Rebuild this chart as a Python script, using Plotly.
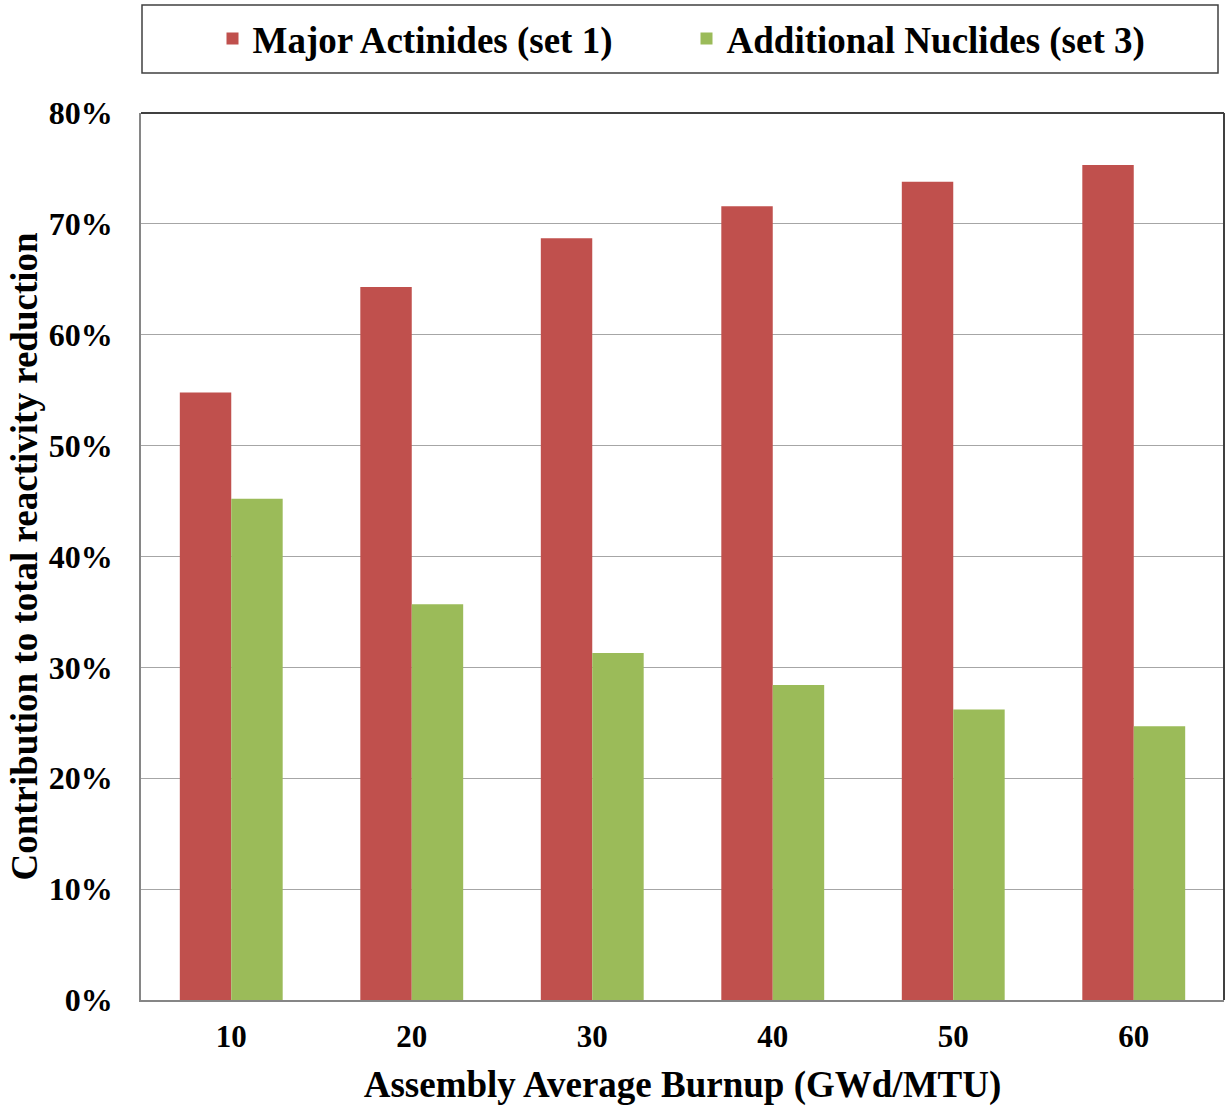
import plotly.graph_objects as go

# Burnup steps and contribution shares
burnup = ["10", "20", "30", "40", "50", "60"]
major_actinides = [54.8, 64.3, 68.7, 71.6, 73.8, 75.3]
additional_nuclides = [45.2, 35.7, 31.3, 28.4, 26.2, 24.7]
y_ticks = [0, 10, 20, 30, 40, 50, 60, 70, 80]

FONT = "Liberation Serif, Times New Roman, serif"
RED = "#C0504D"
GREEN = "#9BBB59"

W, H = 1225, 1109
L, R, T, B = 141, 1, 113, 109
PW, PH = W - L - R, H - T - B

fig = go.Figure()
fig.add_trace(go.Bar(
    x=burnup, y=major_actinides, name="<b>Major Actinides (set 1)</b>",
    marker=dict(color=RED, line=dict(width=0)),
))
fig.add_trace(go.Bar(
    x=burnup, y=additional_nuclides, name="<b>Additional Nuclides (set 3)</b>",
    marker=dict(color=GREEN, line=dict(width=0)),
))

fig.update_layout(
    width=W, height=H,
    margin=dict(l=L, r=R, t=T, b=B, autoexpand=False),
    paper_bgcolor="white", plot_bgcolor="white",
    font=dict(family=FONT, color="black"),
    barmode="group", bargap=0.43, bargroupgap=0,
    legend=dict(
        orientation="h", x=0.5 + 4 / PW, xanchor="center",
        y=1 + (T - 39) / PH, yanchor="middle",
        font=dict(size=37, family=FONT), bgcolor="rgba(0,0,0,0)",
        entrywidth=429, tracegroupgap=0,
    ),
    xaxis=dict(
        automargin=False,
        showgrid=False, showline=True, linecolor="#868686", linewidth=1.5,
        ticks="", tickfont=dict(size=31), ticklabelstandoff=8,
        title=dict(text="<b>Assembly Average Burnup (GWd/MTU)</b>",
                   font=dict(size=37), standoff=18),
    ),
    yaxis=dict(
        automargin=False,
        range=[0, 80], tickvals=y_ticks, ticktext=[f"<b>{v}%</b>" for v in y_ticks],
        showgrid=True, gridcolor="#A6A6A6", gridwidth=1.2,
        showline=True, linecolor="#868686", linewidth=1.5,
        ticks="", tickfont=dict(size=32), ticklabelstandoff=20,
        title=dict(text="<b>Contribution to total reactivity reduction</b>",
                   font=dict(size=37), standoff=0),
        zeroline=False,
    ),
)
fig.update_xaxes(tickvals=burnup, ticktext=[f"<b>{b}</b>" for b in burnup])

# top/right frame of plot area
fig.add_shape(type="line", xref="paper", yref="paper", x0=0, x1=1, y0=1, y1=1,
              line=dict(color="#404040", width=2))
fig.add_shape(type="line", xref="paper", yref="paper", x0=1, x1=1, y0=0, y1=1,
              line=dict(color="#404040", width=2))
# legend box
fig.add_shape(type="rect", xref="paper", yref="paper",
              x0=1 / PW, x1=(1218 - L) / PW,
              y0=(T + PH - 73) / PH, y1=(T + PH - 5) / PH,
              line=dict(color="#404040", width=1.5), fillcolor="rgba(0,0,0,0)")

# drop the default 8px page margin so the figure fills the window
fig.write_html("out.html", config={"displayModeBar": False},
               post_script="document.body.style.margin='0';")
